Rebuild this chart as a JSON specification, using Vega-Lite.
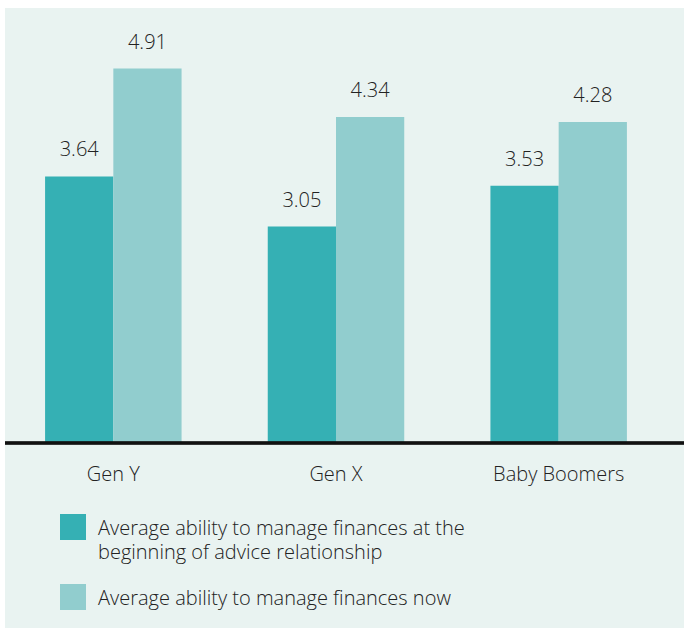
{
  "$schema": "https://vega.github.io/schema/vega-lite/v6.json",
  "autosize": "none",
  "width": 679,
  "height": 620,
  "padding": {"left": 5, "top": 8, "right": 0, "bottom": 2},
  "background": "#ffffff",
  "config": {
    "view": {"fill": "#e9f3f1", "stroke": null},
    "font": "Open Sans",
    "text": {"font": "Open Sans"}
  },
  "data": {
    "values": [
      {"group": "Gen Y", "series": "Average ability to manage finances at the beginning of advice relationship", "value": 3.64},
      {"group": "Gen Y", "series": "Average ability to manage finances now", "value": 4.91},
      {"group": "Gen X", "series": "Average ability to manage finances at the beginning of advice relationship", "value": 3.05},
      {"group": "Gen X", "series": "Average ability to manage finances now", "value": 4.34},
      {"group": "Baby Boomers", "series": "Average ability to manage finances at the beginning of advice relationship", "value": 3.53},
      {"group": "Baby Boomers", "series": "Average ability to manage finances now", "value": 4.28}
    ]
  },
  "layer": [
    {
      "mark": {"type": "bar"},
      "encoding": {
        "x": {
          "field": "group",
          "type": "nominal",
          "sort": ["Gen Y", "Gen X", "Baby Boomers"],
          "scale": {"range": [0, 662], "paddingInner": 0.387, "paddingOuter": 0.18},
          "axis": {
            "title": null,
            "orient": "bottom",
            "offset": -185,
            "domain": false,
            "ticks": false,
            "grid": false,
            "labelAngle": 0,
            "labelFontSize": 20,
            "labelFont": "Open Sans",
            "labelFontWeight": 300,
            "labelColor": "#222222",
            "labelPadding": 21
          }
        },
        "xOffset": {
          "field": "series",
          "type": "nominal",
          "sort": ["Average ability to manage finances at the beginning of advice relationship", "Average ability to manage finances now"],
          "scale": {"paddingInner": 0, "paddingOuter": 0}
        },
        "y": {"field": "value", "type": "quantitative", "scale": {"domain": [-1.679, 5.624], "zero": false, "nice": false}, "axis": null},
        "y2": {"datum": 0.5},
        "color": {
          "field": "series",
          "type": "nominal",
          "scale": {
            "domain": ["Average ability to manage finances at the beginning of advice relationship", "Average ability to manage finances now"],
            "range": ["#35b0b4", "#91cdce"]
          },
          "legend": {
            "title": null,
            "orient": "none",
            "legendX": 55,
            "legendY": 506,
            "direction": "vertical",
            "symbolType": "square",
            "symbolSize": 676,
            "symbolStrokeWidth": 0,
            "symbolOpacity": 1,
            "labelFontSize": 20,
            "labelFont": "Open Sans",
            "labelFontWeight": 300,
            "labelColor": "#222222",
            "labelLimit": 0,
            "labelOffset": 12,
            "labelBaseline": "top",
            "rowPadding": 21,
            "labelExpr": "datum.label == 'Average ability to manage finances at the beginning of advice relationship' ? ['Average ability to manage finances at the', 'beginning of advice relationship'] : datum.label",
            "encode": {
              "labels": {"update": {"lineHeight": {"value": 24}, "dy": {"value": -8}}}
            }
          }
        }
      }
    },
    {
      "mark": {"type": "text", "baseline": "alphabetic", "dy": -20, "fontSize": 20, "fontWeight": 300, "color": "#222222"},
      "encoding": {
        "x": {"field": "group", "type": "nominal", "sort": ["Gen Y", "Gen X", "Baby Boomers"]},
        "xOffset": {"field": "series", "type": "nominal", "sort": ["Average ability to manage finances at the beginning of advice relationship", "Average ability to manage finances now"]},
        "y": {"field": "value", "type": "quantitative"},
        "text": {"field": "value", "type": "quantitative", "format": ".2f"}
      }
    },
    {
      "mark": {"type": "rule", "color": "#111111", "strokeWidth": 2.5},
      "encoding": {
        "y": {"datum": 0.5}
      }
    }
  ]
}
